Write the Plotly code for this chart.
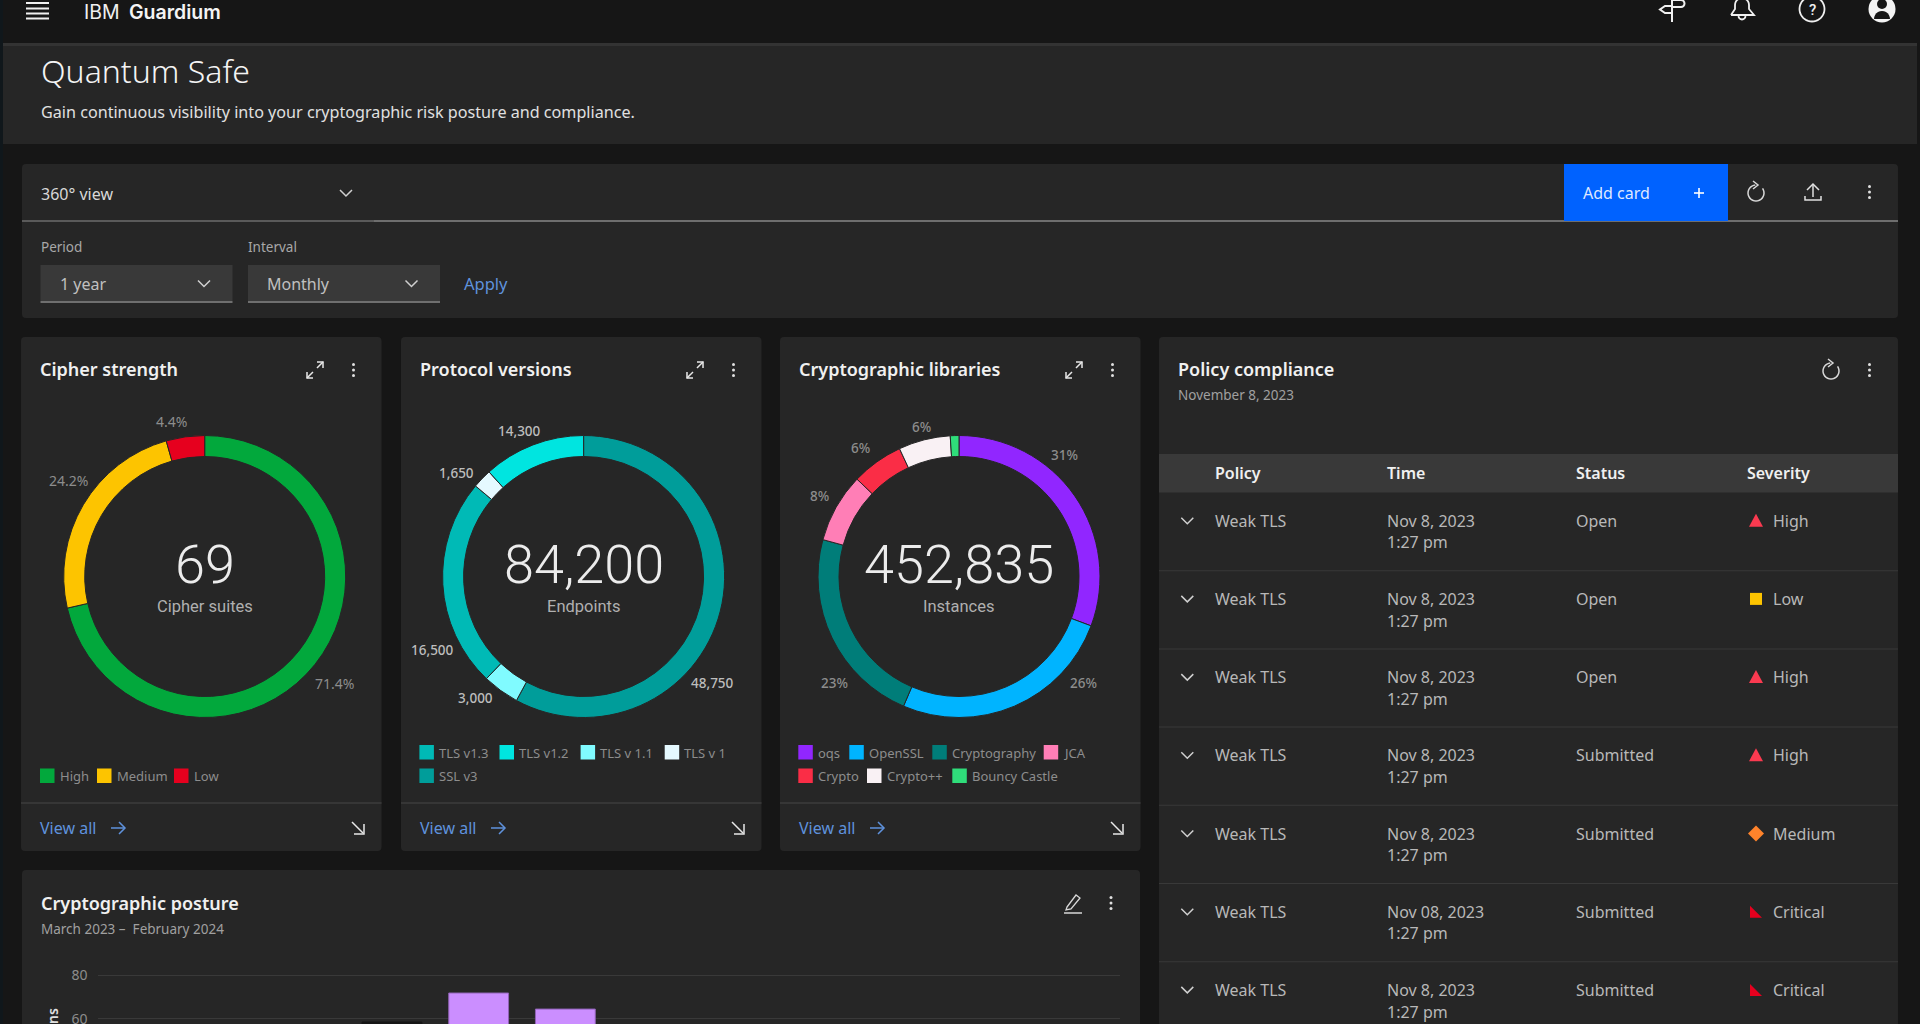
import math
import plotly.graph_objects as go

W, H = 1920, 1024
FONT = "Noto Sans"

# ---------- data ----------
cipher_labels = ["High", "Medium", "Low"]
cipher_values = [71.4, 24.2, 4.4]
cipher_text = ["71.4%", "24.2%", "4.4%"]
cipher_colors = ["#02a83c", "#fdc400", "#e6001e"]

# The drawn arcs of this donut differ from its printed numbers, so both are kept.
protocol_labels = ["SSL v3", "TLS v 1.1", "TLS v1.3", "TLS v 1", "TLS v1.2"]
protocol_printed = ["48,750", "3,000", "16,500", "1,650", "14,300"]
protocol_arcs = [57.9, 4.2, 24.0, 2.2, 11.7]
protocol_colors = ["#009d9a", "#80fbff", "#00bab6", "#e5f9ff", "#00e5e0"]

library_labels = ["oqs", "OpenSSL", "Cryptography", "JCA", "Crypto", "Crypto++", "Bouncy Castle"]
library_values = [31, 26, 23, 8, 6, 6, 1]
library_text = ["31%", "26%", "23%", "8%", "6%", "6%"]
library_colors = ["#9126ff", "#00b4ff", "#007d79", "#ff7eb6", "#fa2d46", "#f9f1f4", "#2fdd7a"]

posture_months = ["Mar", "Apr", "May", "Jun", "Jul", "Aug", "Sep", "Oct", "Nov", "Dec", "Jan", "Feb"]
posture_visible_months = ["Jun", "Jul", "Aug"]
posture_values = [58.6, 71.8, 64.5]
posture_colors = ["#161616", "#cb8eff", "#cb8eff"]
posture_edges = ["#161616", "#8f62b5", "#8f62b5"]
posture_ticks = [60, 80]

policy_names = ["Weak TLS"] * 7
policy_dates = ["Nov 8, 2023", "Nov 8, 2023", "Nov 8, 2023", "Nov 8, 2023", "Nov 8, 2023", "Nov 08, 2023", "Nov 8, 2023"]
policy_times = ["1:27 pm"] * 7
policy_status = ["Open", "Open", "Open", "Submitted", "Submitted", "Submitted", "Submitted"]
policy_severity = ["High", "Low", "High", "High", "Medium", "Critical", "Critical"]
table_columns = ["Policy", "Time", "Status", "Severity"]

# ---------- page helpers ----------
shapes, notes = [], []


def P(x, y):
    return f"{x / W:.5f},{1 - y / H:.5f}"


def path(pts, close=False):
    return "M" + " L".join(P(*p) for p in pts) + (" Z" if close else "")


def stroke(pts, color="#e0e0e0", width=1.5, close=False):
    shapes.append(dict(type="path", xref="paper", yref="paper", path=path(pts, close),
                       line=dict(color=color, width=width), layer="below"))


def fill(pts, color):
    shapes.append(dict(type="path", xref="paper", yref="paper", path=path(pts, True),
                       fillcolor=color, line=dict(width=0), layer="below"))


def rect(x0, y0, x1, y1, color):
    shapes.append(dict(type="rect", xref="paper", yref="paper", x0=x0 / W, x1=x1 / W,
                       y0=1 - y1 / H, y1=1 - y0 / H, fillcolor=color, line=dict(width=0), layer="below"))


def card(x0, y0, x1, y1, color="#262626", r=4):
    d = (f"M{P(x0 + r, y0)} L{P(x1 - r, y0)} Q{P(x1, y0)} {P(x1, y0 + r)} L{P(x1, y1 - r)} "
         f"Q{P(x1, y1)} {P(x1 - r, y1)} L{P(x0 + r, y1)} Q{P(x0, y1)} {P(x0, y1 - r)} "
         f"L{P(x0, y0 + r)} Q{P(x0, y0)} {P(x0 + r, y0)} Z")
    shapes.append(dict(type="path", xref="paper", yref="paper", path=d, fillcolor=color,
                       line=dict(width=0), layer="below"))


def dot(x, y, r, color):
    shapes.append(dict(type="circle", xref="paper", yref="paper", x0=(x - r) / W, x1=(x + r) / W,
                       y0=1 - (y + r) / H, y1=1 - (y - r) / H, fillcolor=color, line=dict(width=0), layer="below"))


def T(x, y, text, size=16, color="#b8b8b8", anchor="left", weight=400, family=FONT, angle=0, yanchor="middle"):
    notes.append(dict(x=x / W, y=1 - y / H, xref="paper", yref="paper", text=text, showarrow=False,
                      xanchor=anchor, yanchor=yanchor, borderpad=0, borderwidth=0, textangle=angle,
                      font=dict(family=family, size=size, color=color, weight=weight)))


def arc(x, y, r, a0, a1, n=24):
    return [(x + r * math.cos(math.radians(a0 + (a1 - a0) * i / n)),
             y + r * math.sin(math.radians(a0 + (a1 - a0) * i / n))) for i in range(n + 1)]


def chevron(x, y, color="#d0d0d0"):
    stroke([(x - 6, y - 3), (x, y + 3), (x + 6, y - 3)], color, 1.5)


def kebab(x, y):
    for d in (-5.5, 0, 5.5):
        dot(x, y + d, 1.5, "#e0e0e0")


def expand(x, y):
    c = "#e8e8e8"
    stroke([(x - 8, y + 8), (x - 2, y + 2)], c)
    stroke([(x + 2, y - 2), (x + 8, y - 8)], c)
    stroke([(x - 8, y + 2), (x - 8, y + 8), (x - 2, y + 8)], c)
    stroke([(x + 2, y - 8), (x + 8, y - 8), (x + 8, y - 2)], c)


def refresh(x, y):
    stroke(arc(x, y + 1, 8, -35, 265), "#d8d8d8", 1.5)
    stroke([(x - 3, y - 11), (x + 2, y - 7), (x - 3, y - 3)], "#d8d8d8", 1.5)


def upload(x, y):
    c = "#e0e0e0"
    stroke([(x, y + 5), (x, y - 8)], c)
    stroke([(x - 6, y - 2), (x, y - 8), (x + 6, y - 2)], c)
    stroke([(x - 8, y + 4), (x - 8, y + 8), (x + 8, y + 8), (x + 8, y + 4)], c)


def arrow_right(x, y, color):
    stroke([(x - 7, y), (x + 7, y)], color)
    stroke([(x + 1, y - 6), (x + 7, y), (x + 1, y + 6)], color)


def arrow_corner(x, y):
    stroke([(x - 6, y - 6), (x + 5, y + 5)], "#e8e8e8")
    stroke([(x - 4, y + 6), (x + 6, y + 6), (x + 6, y - 4)], "#e8e8e8")


def pencil(x, y):
    c = "#d8d8d8"
    stroke([(x - 6, y + 4), (x + 3, y - 8), (x + 7, y - 5), (x - 2, y + 6), (x - 7, y + 7)], c, 1.3, True)
    stroke([(x - 9, y + 10), (x + 9, y + 10)], c, 1.5)


def severity_icon(x, y, kind):
    if kind == "High":
        fill([(x - 7, y + 6), (x, y - 7), (x + 7, y + 6)], "#fa3a50")
    elif kind == "Low":
        fill([(x - 6, y - 6), (x + 6, y - 6), (x + 6, y + 6), (x - 6, y + 6)], "#fdc400")
    elif kind == "Medium":
        fill([(x, y - 8), (x + 8, y), (x, y + 8), (x - 8, y)], "#ff832b")
    else:
        fill([(x - 6, y - 6), (x + 6, y + 6), (x - 6, y + 6)], "#e6001e")


# ---------- page frame ----------
BLUE_TXT = "#5f92dd"
rect(0, 0, 3, H, "#10171b")
rect(3, 43, 1917, 46, "#333333")
rect(3, 46, 1917, 144, "#262626")

for y in (3, 8.5, 13.5, 18.5):
    rect(26, y - 1, 49, y + 1, "#f0f0f0")
T(84, 12, "IBM", 19.5, "#f0f0f0", family="Inter")
T(128.5, 12, "Guardium", 19.5, "#f4f4f4", weight=600, family="Inter")

# header icons
c = "#f0f0f0"
stroke([(1672, 0), (1672, 22)], c, 2)
stroke([(1672, 0), (1681, 0)] + arc(1681, 3.5, 3.5, -90, 90, 8) + [(1672, 7)], c, 2)
stroke([(1672, 6), (1665, 6), (1660, 9.5), (1665, 13), (1672, 13)], c, 2)
stroke([(1731, 15), (1735, 9)] + arc(1742, 5, 7, 180, 360, 12) + [(1749, 9), (1754, 15), (1731, 15)], c, 1.8)
stroke(arc(1742, 16, 3.5, 0, 180, 8), c, 1.8)
stroke(arc(1812, 9, 12.5, 0, 360, 40), c, 1.8)
T(1812, 10, "?", 15, c, "center", 500, family="Roboto")
dot(1882, 9, 13.5, "#f4f4f4")
dot(1882, 4, 5, "#161616")
fill(arc(1882, 19, 8, 180, 360, 12), "#161616")

T(40.5, 70, "Quantum Safe", 32, "#f4f4f4", weight=300)
T(40.5, 112, "Gain continuous visibility into your cryptographic risk posture and compliance.", 16.15, "#e0e0e0")

# toolbar card
card(22, 164, 1898, 318)
rect(22, 220, 374, 222, "#5a5a5a")
rect(374, 220, 1898, 222, "#6e6e6e")
T(41, 193.5, "360° view", 16, "#d8d8d8")
chevron(346, 193)
rect(1564, 164, 1728, 221, "#0062ff")
T(1583, 192.5, "Add card", 16, "#dfe8ff")
stroke([(1694, 193), (1704, 193)], "#ffffff", 1.6)
stroke([(1699, 188), (1699, 198)], "#ffffff", 1.6)
refresh(1756, 192)
upload(1813, 192)
kebab(1869.5, 192)

T(41, 246.5, "Period", 13.5, "#a8a8a8")
T(248, 246.5, "Interval", 13.5, "#a8a8a8")
for x0, label in ((40.5, "1 year"), (248, "Monthly")):
    rect(x0, 265, x0 + 192, 301, "#393939")
    rect(x0, 301, x0 + 192, 303, "#6f6f6f")
    T(x0 + 19, 283.5, label, 16, "#c0c0c0")
    chevron(x0 + 163.5, 283.5)
T(464, 283.5, "Apply", 16.5, BLUE_TXT)

# ---------- donut cards ----------
donuts = [
    dict(x0=21, cx=204.7, title="Cipher strength", big="69", sub="Cipher suites",
         values=cipher_values, labels=cipher_labels, colors=cipher_colors),
    dict(x0=401, cx=583.6, title="Protocol versions", big="84,200", sub="Endpoints",
         values=protocol_arcs, labels=protocol_labels, colors=protocol_colors),
    dict(x0=780, cx=959, title="Cryptographic libraries", big="452,835", sub="Instances",
         values=library_values, labels=library_labels, colors=library_colors),
]
CY, R = 576.5, 141
fig = go.Figure()
for d in donuts:
    x0 = d["x0"]
    card(x0, 337, x0 + 360.5, 851)
    rect(x0, 802, x0 + 360.5, 804, "#363636")
    T(x0 + 19, 369, d["title"], 18, "#f0f0f0", weight=600)
    expand(x0 + 294, 370)
    kebab(x0 + 332.5, 370)
    T(x0 + 19, 827.5, "View all", 16, BLUE_TXT)
    arrow_right(x0 + 97, 828, BLUE_TXT)
    arrow_corner(x0 + 337, 828)
    T(d["cx"], 564, d["big"], 54, "#ececec", "center", 300, family="Roboto")
    T(d["cx"], 606, d["sub"], 16.5, "#b0b0b0", "center", family="Roboto")
    fig.add_trace(go.Pie(
        values=d["values"], labels=d["labels"], hole=120 / 141, sort=False, direction="clockwise",
        rotation=0, textinfo="none", hoverinfo="label+value", showlegend=False,
        marker=dict(colors=d["colors"], line=dict(color="#262626", width=1)),
        domain=dict(x=[(d["cx"] - R) / W, (d["cx"] + R) / W], y=[1 - (CY + R) / H, 1 - (CY - R) / H]),
    ))

# slice labels: cipher_text, protocol_printed and library_text, in slice order
for (x, y), s in zip([(334, 683), (68, 480), (171.6, 421)], cipher_text):
    T(x, y, s, 14, "#8d8d8d", "center")
for (x, y), s in zip([(712, 683), (475, 698), (432, 650), (456.7, 473), (519, 431)], protocol_printed):
    T(x, y, s, 13.5, "#bdbdbd", "center", 500)
for (x, y), s in zip([(1064, 455), (1083, 683), (834.7, 683), (819, 495.6), (860, 448), (921.7, 427)], library_text):
    T(x, y, s, 13.5, "#8d8d8d", "center", 500)

# legends
legend_items = [
    (40, 776, "High", cipher_colors[0]), (97, 776, "Medium", cipher_colors[1]), (174, 776, "Low", cipher_colors[2]),
    (419.4, 752.5, "TLS v1.3", protocol_colors[2]), (499.5, 752.5, "TLS v1.2", protocol_colors[4]),
    (580.6, 752.5, "TLS v 1.1", protocol_colors[1]), (664.7, 752.5, "TLS v 1", protocol_colors[3]),
    (419.4, 776, "SSL v3", protocol_colors[0]),
    (798.3, 752.5, "oqs", library_colors[0]), (849.3, 752.5, "OpenSSL", library_colors[1]),
    (932.3, 752.5, "Cryptography", library_colors[2]), (1043.7, 752.5, "JCA", library_colors[3]),
    (798.3, 776, "Crypto", library_colors[4]), (867, 776, "Crypto++", library_colors[5]),
    (952.3, 776, "Bouncy Castle", library_colors[6]),
]
for x, y, name, color in legend_items:
    rect(x, y - 7.5, x + 14.5, y + 7, color)
    T(x + 19.5, y, name, 13, "#8d8d8d")

# ---------- policy table card ----------
card(1159, 337, 1898, 1030)
T(1178, 369, "Policy compliance", 18, "#f0f0f0", weight=600)
T(1178, 395, "November 8, 2023", 13.5, "#a0a0a0")
refresh(1831, 370)
kebab(1869.5, 370)
rect(1159, 454, 1898, 492.5, "#393939")
col_x = [1215, 1386.7, 1576, 1746.8]
for x, name in zip(col_x, table_columns):
    T(x, 473, name, 16, "#f0f0f0", weight=600)
for i in range(7):
    y = 520.7 + 78.2 * i
    chevron(1187.3, y)
    T(col_x[0], y, policy_names[i], 16)
    T(col_x[1], y, policy_dates[i], 16)
    T(col_x[1], y + 21.7, policy_times[i], 16)
    T(col_x[2], y, policy_status[i], 16)
    severity_icon(1756, y, policy_severity[i])
    T(1773, y, policy_severity[i], 16)
    rect(1159, y + 49.5, 1898, y + 50.5, "#393939")

# ---------- posture card ----------
card(22, 870, 1140, 1030)
T(40.7, 902.5, "Cryptographic posture", 18, "#f0f0f0", weight=600)
T(40.7, 929, "March 2023 –  February 2024", 13.5, "#a0a0a0")
pencil(1073, 903)
kebab(1111, 903)
T(52, 1008, "Transactions", 14, "#e0e0e0", "center", 600, angle=-90, yanchor="top")

fig.add_trace(go.Bar(
    x=posture_visible_months, y=posture_values,
    marker=dict(color=posture_colors, line=dict(width=1, color=posture_edges)),
    width=0.69, showlegend=False, hoverinfo="x+y",
))

fig.update_layout(
    width=W, height=H, margin=dict(l=0, r=0, t=0, b=0), autosize=False,
    paper_bgcolor="#161616", plot_bgcolor="rgba(0,0,0,0)",
    font=dict(family=FONT, color="#c6c6c6"),
    shapes=shapes, annotations=notes, showlegend=False,
    xaxis=dict(domain=[97.6 / W, 1120 / W], type="category", categoryorder="array",
               categoryarray=posture_months, range=[-0.395, 11.397], showgrid=False, zeroline=False,
               showticklabels=False, ticks="", showline=False, fixedrange=True),
    # 80 sits at y=975 and 60 at y=1019 on the page: 2.2 px per unit, range padded above 80
    yaxis=dict(domain=[0, 1 - 970.6 / H], range=[57.7, 82], tickmode="array", tickvals=posture_ticks,
               showgrid=True, gridcolor="#393939", gridwidth=1, zeroline=False, showline=False,
               tickfont=dict(size=14, color="#8d8d8d", family=FONT), ticks="", ticklabelstandoff=9,
               ticklabeloverflow="allow", automargin=False, fixedrange=True),
)

fig.write_html("out.html", config=dict(displayModeBar=False),
               post_script="document.body.style.margin='0';document.body.style.overflow='hidden';")
